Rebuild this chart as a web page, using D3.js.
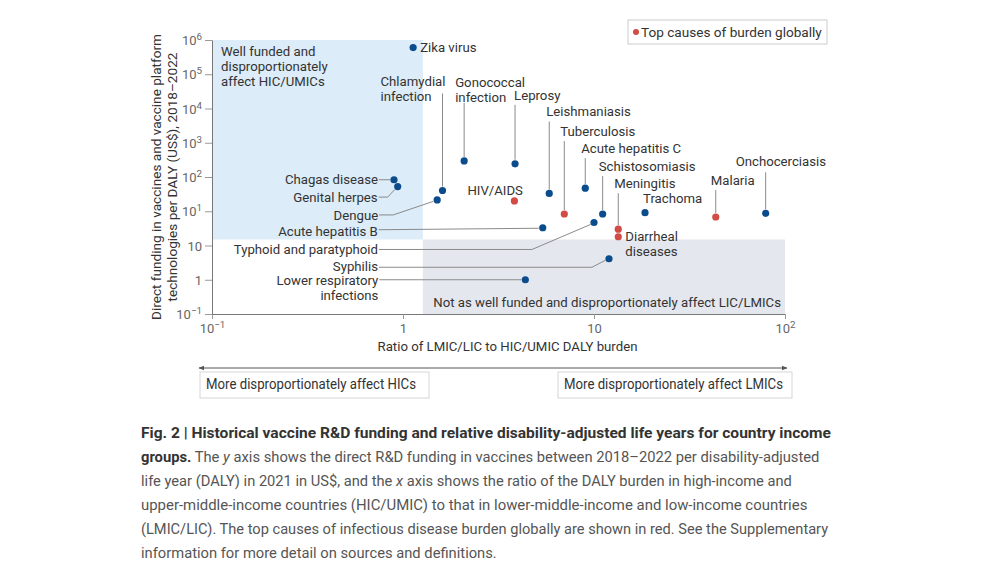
<!DOCTYPE html>
<html>
<head>
<meta charset="utf-8">
<script src="https://cdn.jsdelivr.net/npm/d3@7"></script>
<style>
  body { margin: 0; background: #fff; }
  svg text { font-family: Roboto, "Noto Sans", sans-serif; }
</style>
</head>
<body>
<svg id="chart"></svg>
<script>
var width = 1000;
var height = 562;

// data
var diseases = ['Zika virus', 'Chagas disease', 'Genital herpes', 'Dengue', 'Chlamydial infection',
  'Gonococcal infection', 'Leprosy', 'HIV/AIDS', 'Leishmaniasis', 'Tuberculosis', 'Acute hepatitis C',
  'Schistosomiasis', 'Acute hepatitis B', 'Typhoid and paratyphoid', 'Meningitis', 'Diarrheal diseases',
  'Syphilis', 'Lower respiratory infections', 'Trachoma', 'Malaria', 'Onchocerciasis'];
var dalyRatio = [1.13, 0.897, 0.938, 1.51, 1.61, 2.09, 3.86, 3.83, 5.83, 6.99, 9.0,
  11.1, 5.39, 10.0, 13.4, 13.4, 11.98, 4.37, 18.5, 43.4, 79.2];
var fundingPerDaly = [6.0e6, 832, 525, 214, 403, 2950, 2430, 200, 331, 83, 473,
  83, 33, 47, 30, 18, 4.1, 1.0, 91, 68, 87];
var topCause = [false, false, false, false, false, false, false, true, false, true, false,
  false, false, false, true, true, false, false, false, true, false];

var xTickValues = [0.1, 1, 10, 100];
var xTickLabels = [['10', '−1'], ['1', ''], ['10', ''], ['10', '2']];
var yTickValues = [1e-1, 1, 10, 100, 1e3, 1e4, 1e5, 1e6, 1e7];
var yTickLabels = [['10', '−1'], ['1', ''], ['10', ''], ['10', '1'], ['10', '2'],
  ['10', '3'], ['10', '4'], ['10', '5'], ['10', '6']];

// quadrant split
var splitX = 1.27;
var splitY = 15;

var blue = '#0b4d8c';
var red = '#d24b45';
var textColor = '#333';
var leaderColor = '#8a8a8a';
var labelSize = 13.2;

// label layout, offsets from each point (px)
var labelLayout = {
  'Zika virus': { dx: 7, dy: 0, anchor: 'start', lines: ['Zika virus'] },
  'Chlamydial infection': { dx: -62, dy: -109, anchor: 'start', lines: ['Chlamydial', 'infection'], leader: [[0, -97], [0, -4]] },
  'Gonococcal infection': { dx: -9, dy: -79, anchor: 'start', lines: ['Gonococcal', 'infection'], leader: [[0, -58], [0, -4]] },
  'Leprosy': { dx: -1, dy: -68, anchor: 'start', lines: ['Leprosy'], leader: [[0, -59], [0, -4]] },
  'Leishmaniasis': { dx: -3, dy: -82, anchor: 'start', lines: ['Leishmaniasis'], leader: [[0, -72], [0, -4]] },
  'Tuberculosis': { dx: -4, dy: -83, anchor: 'start', lines: ['Tuberculosis'], leader: [[0, -73], [0, -4]] },
  'Acute hepatitis C': { dx: -4, dy: -40, anchor: 'start', lines: ['Acute hepatitis C'], leader: [[0, -30], [0, -4]] },
  'Schistosomiasis': { dx: -4, dy: -48, anchor: 'start', lines: ['Schistosomiasis'], leader: [[0, -38], [0, -4]] },
  'Meningitis': { dx: -4, dy: -46, anchor: 'start', lines: ['Meningitis'], leader: [[0, -36], [0, -4]] },
  'Trachoma': { dx: -2, dy: -14, anchor: 'start', lines: ['Trachoma'] },
  'Malaria': { dx: -5, dy: -37, anchor: 'start', lines: ['Malaria'], leader: [[0, -27], [0, -4]] },
  'Onchocerciasis': { dx: -30, dy: -52, anchor: 'start', lines: ['Onchocerciasis'], leader: [[0, -41], [0, -4]] },
  'HIV/AIDS': { dx: -47, dy: -11, anchor: 'start', lines: ['HIV/AIDS'] },
  'Diarrheal diseases': { dx: 7, dy: 0, anchor: 'start', lines: ['Diarrheal', 'diseases'] },
  'Chagas disease': { dx: -16, dy: 0, anchor: 'end', lines: ['Chagas disease'], leader: [[-15, 0], [-4, 0]] },
  'Genital herpes': { dx: -20, dy: 10.5, anchor: 'end', lines: ['Genital herpes'], leader: [[-19, 10.5], [-10, 10.5], [-3, 3]] },
  'Dengue': { dx: -59, dy: 15, anchor: 'end', lines: ['Dengue'], leader: [[-58, 15], [-44, 15], [-4, 1.5]] },
  'Acute hepatitis B': { dx: -165, dy: 3.5, anchor: 'end', lines: ['Acute hepatitis B'], leader: [[-164, 2], [-4, 0.5]] },
  'Typhoid and paratyphoid': { dx: -216, dy: 27, anchor: 'end', lines: ['Typhoid and paratyphoid'], leader: [[-215, 27], [-62, 27], [-3.5, 2]] },
  'Syphilis': { dx: -231, dy: 8, anchor: 'end', lines: ['Syphilis'], leader: [[-230, 8.5], [-17, 8.5], [-3.5, 1.5]] },
  'Lower respiratory infections': { dx: -147, dy: 0.5, anchor: 'end', lines: ['Lower respiratory', 'infections'], leader: [[-146, 0], [-4, 0]] }
};

// caption: each line is a list of [style, text] segments, plus the width it spans
var captionLines = [
  { segs: [['b', 'Fig. 2 | Historical vaccine R&D funding and relative disability-adjusted life years for country income']], len: 691 },
  { segs: [['b', 'groups.'], ['n', ' The '], ['i', 'y'], ['n', ' axis shows the direct R&D funding in vaccines between 2018–2022 per disability-adjusted']], len: 679 },
  { segs: [['n', 'life year (DALY) in 2021 in US$, and the '], ['i', 'x'], ['n', ' axis shows the ratio of the DALY burden in high-income and']], len: 651 },
  { segs: [['n', 'upper-middle-income countries (HIC/UMIC) to that in lower-middle-income and low-income countries']], len: 667 },
  { segs: [['n', '(LMIC/LIC). The top causes of infectious disease burden globally are shown in red. See the Supplementary']], len: 688 },
  { segs: [['n', 'information for more detail on sources and definitions.']], len: 356 }
];

var svg = d3.select('#chart').attr('width', width).attr('height', height);

var xScale = d3.scaleLog().domain([0.1, 100]).range([212, 785]);
var yScale = d3.scaleLog().domain([1e-1, 1e7]).range([314, 40]);

// shaded quadrants
svg.append('rect')
  .attr('x', xScale(0.1)).attr('y', yScale(1e7))
  .attr('width', xScale(splitX) - xScale(0.1))
  .attr('height', yScale(splitY) - yScale(1e7))
  .attr('fill', '#dcecf8');
svg.append('rect')
  .attr('x', xScale(splitX)).attr('y', yScale(splitY))
  .attr('width', xScale(100) - xScale(splitX))
  .attr('height', yScale(1e-1) - yScale(splitY))
  .attr('fill', '#e4e7ee');

function supLabel(sel, parts) {
  sel.text(null);
  sel.append('tspan').text(parts[0]);
  if (parts[1]) {
    sel.append('tspan').attr('dy', '-0.5em').attr('font-size', '0.75em').text(parts[1]);
  }
}

// x axis
var xAxis = svg.append('g')
  .attr('transform', `translate(0, ${yScale(1e-1)})`)
  .call(d3.axisBottom(xScale).tickValues(xTickValues).tickSize(5).tickSizeOuter(0).tickFormat(''));
xAxis.select('.domain').attr('stroke', '#777');
xAxis.selectAll('.tick line').attr('stroke', '#999');
xAxis.selectAll('.tick text').remove();
xAxis.selectAll('.tick').append('text')
  .attr('y', 19)
  .attr('fill', '#666')
  .attr('font-size', 13)
  .attr('text-anchor', 'middle')
  .each(function(d, i) { supLabel(d3.select(this), xTickLabels[i]); });

// y axis
var yAxis = svg.append('g')
  .attr('transform', `translate(${xScale(0.1)}, 0)`)
  .call(d3.axisLeft(yScale).tickValues(yTickValues).tickSize(7).tickSizeOuter(0).tickFormat(''));
yAxis.select('.domain').attr('stroke', '#777');
yAxis.selectAll('.tick line').attr('stroke', '#999');
yAxis.selectAll('.tick text').remove();
yAxis.selectAll('.tick').append('text')
  .attr('x', -10)
  .attr('dy', '0.35em')
  .attr('fill', '#666')
  .attr('font-size', 13)
  .attr('text-anchor', 'end')
  .each(function(d, i) { supLabel(d3.select(this), yTickLabels[i]); });

// axis titles
svg.append('text')
  .attr('x', (xScale(0.1) + xScale(100)) / 2 + 9)
  .attr('y', 351)
  .attr('text-anchor', 'middle')
  .attr('font-size', labelSize)
  .attr('fill', textColor)
  .text('Ratio of LMIC/LIC to HIC/UMIC DALY burden');

var yTitle = svg.append('text')
  .attr('transform', `translate(161, ${(yScale(1e-1) + yScale(1e7)) / 2}) rotate(-90)`)
  .attr('text-anchor', 'middle')
  .attr('font-size', 13.6)
  .attr('fill', textColor);
yTitle.append('tspan').attr('x', 0).attr('y', 0).text('Direct funding in vaccines and vaccine platform');
yTitle.append('tspan').attr('x', 0).attr('y', 16).text('technologies per DALY (US$), 2018–2022');

// quadrant captions
var quadText = svg.append('text')
  .attr('font-size', labelSize)
  .attr('fill', textColor);
['Well funded and', 'disproportionately', 'affect HIC/UMICs'].forEach(function(t, i) {
  quadText.append('tspan').attr('x', xScale(0.1) + 9).attr('y', 56 + i * 15).text(t);
});
svg.append('text')
  .attr('x', xScale(100) - 4)
  .attr('y', 306.5)
  .attr('text-anchor', 'end')
  .attr('font-size', labelSize)
  .attr('fill', textColor)
  .text('Not as well funded and disproportionately affect LIC/LMICs');

// points
var points = diseases.map(function(name, i) {
  return { name: name, x: xScale(dalyRatio[i]), y: yScale(fundingPerDaly[i]), top: topCause[i] };
});

var lineGen = d3.line();
svg.append('g').selectAll('path')
  .data(points.filter(d => labelLayout[d.name].leader))
  .enter()
  .append('path')
    .attr('fill', 'none')
    .attr('stroke', leaderColor)
    .attr('stroke-width', 1)
    .attr('d', function(d) {
      return lineGen(labelLayout[d.name].leader.map(p => [d.x + p[0], d.y + p[1]]));
    });

svg.append('g').selectAll('circle')
  .data(points)
  .enter()
  .append('circle')
    .attr('cx', d => d.x)
    .attr('cy', d => d.y)
    .attr('r', 3.6)
    .attr('fill', d => d.top ? red : blue);

svg.append('g').selectAll('text')
  .data(points)
  .enter()
  .append('text')
    .attr('font-size', labelSize)
    .attr('fill', textColor)
    .attr('text-anchor', d => labelLayout[d.name].anchor)
    .each(function(d) {
      var lay = labelLayout[d.name];
      var t = d3.select(this);
      lay.lines.forEach(function(line, i) {
        t.append('tspan')
          .attr('x', d.x + lay.dx)
          .attr('y', d.y + lay.dy + i * 15)
          .attr('dy', '0.35em')
          .text(line);
      });
    });

// legend
svg.append('rect')
  .attr('x', 628).attr('y', 20).attr('width', 199).attr('height', 24)
  .attr('fill', '#fff').attr('stroke', '#ccc');
svg.append('circle').attr('cx', 636).attr('cy', 32).attr('r', 3).attr('fill', red);
svg.append('text')
  .attr('x', 641).attr('y', 32).attr('dy', '0.35em')
  .attr('font-size', 13.6).attr('fill', textColor)
  .text('Top causes of burden globally');

// direction arrow
svg.append('defs').append('marker')
  .attr('id', 'arr')
  .attr('viewBox', '0 0 10 10')
  .attr('refX', 9).attr('refY', 5)
  .attr('markerWidth', 6).attr('markerHeight', 6)
  .attr('orient', 'auto-start-reverse')
  .append('path').attr('d', 'M0,1 L10,5 L0,9 z').attr('fill', '#555');
svg.append('line')
  .attr('x1', 199).attr('x2', 787).attr('y1', 368).attr('y2', 368)
  .attr('stroke', '#555').attr('stroke-width', 1)
  .attr('marker-start', 'url(#arr)').attr('marker-end', 'url(#arr)');

[{ x: 200, w: 229, len: 210, t: 'More disproportionately affect HICs' },
 { x: 558, w: 234, len: 219, t: 'More disproportionately affect LMICs' }].forEach(function(b) {
  svg.append('rect')
    .attr('x', b.x).attr('y', 372).attr('width', b.w).attr('height', 26)
    .attr('fill', '#fff').attr('stroke', '#d6d6d6');
  svg.append('text')
    .attr('x', b.x + 6).attr('y', 384).attr('dy', '0.35em')
    .attr('font-size', 14.2).attr('fill', textColor)
    .attr('textLength', b.len).attr('lengthAdjust', 'spacingAndGlyphs')
    .text(b.t);
});

// caption, one group per line, segments laid out one after another then squeezed to width
captionLines.forEach(function(c, i) {
  var g = svg.append('g');
  var cursor = 0;
  c.segs.forEach(function(s) {
    var t = g.append('text')
      .attr('x', cursor)
      .attr('y', 0)
      .attr('font-family', 'Lato, "Open Sans", sans-serif')
      .attr('font-size', 15)
      .attr('fill', s[0] === 'b' ? '#333' : '#555')
      .attr('font-weight', s[0] === 'b' ? 'bold' : null)
      .attr('font-style', s[0] === 'i' ? 'italic' : null)
      .style('white-space', 'pre')
      .attr('xml:space', 'preserve')
      .text(s[1]);
    cursor += t.node().getComputedTextLength();
  });
  var sx = cursor > 0 ? c.len / cursor : 1;
  g.attr('transform', `translate(141, ${438 + i * 24}) scale(${sx}, 1)`);
});
</script>
</body>
</html>
